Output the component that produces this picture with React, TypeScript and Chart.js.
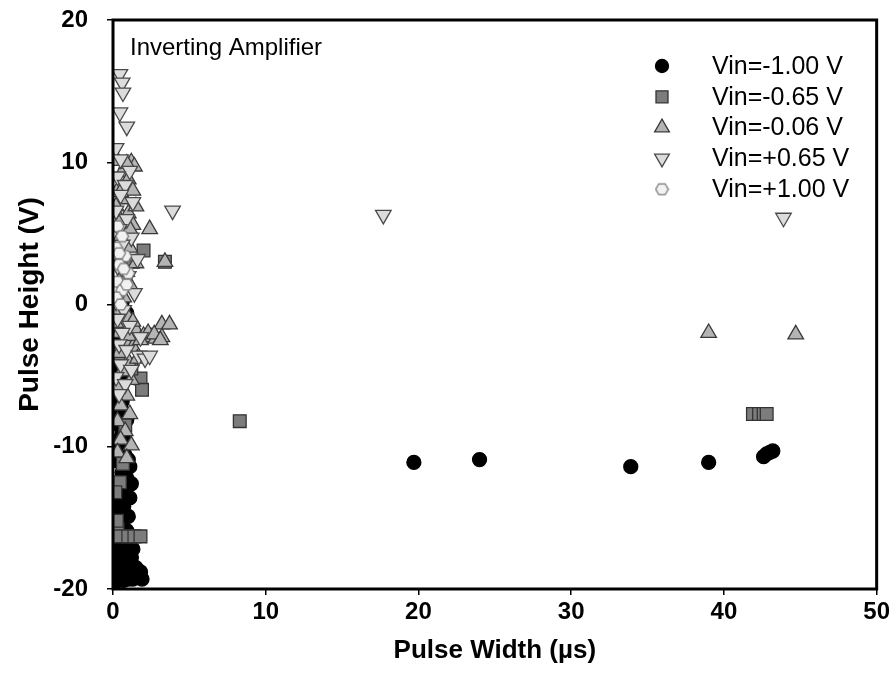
import React, { useEffect, useRef } from 'react';
import { Chart, registerables } from 'chart.js';

Chart.register(...registerables);

const seriesLabels = ['Vin=-1.00 V', 'Vin=-0.65 V', 'Vin=-0.06 V', 'Vin=+0.65 V', 'Vin=+1.00 V'];
const xTicks = [0, 10, 20, 30, 40, 50];
const yTicks = [-20, -10, 0, 10, 20];
const xTitle = 'Pulse Width (µs)';
const yTitle = 'Pulse Height (V)';
const noteText = 'Inverting Amplifier';

// Vin = -1.00 V (black circles)
const vinM100X = [0.1, 0.4, 0.7, 1.0, 1.3, 1.6, 1.9, 0.2, 0.6, 1.0, 1.4, 0.3, 0.7, 0.2, 0.5, 0.1, 0.3, 0.6, 0.2, 0.4, 0.1, 0.5, 0.8, 0.3, 0.9, 0.6, 1.1, 0.3, 0.8, 0.5, 0.2, 0.6, 0.3, 0.1, 0.5, 0.2, 0.4, 0.1, 0.3, 0.1, 0.3, 0.1, 0.2, 0.1, 0.6,
  1.2, 1.5, 1.8, 0.9, 1.2, 0.8, 0.9, 1.0, 0.7, 1.1, 1.2, 1.0, 0.7, 0.9, 0.6, 0.7, 0.5, 0.6, 0.5, 0.9, 1.6, 1.3,
  19.7, 24.0, 33.9, 39.0, 42.6, 42.8, 43.0, 43.2];
const vinM100Y = [-19.5, -19.4, -19.4, -19.3, -19.3, -19.2, -19.3, -18.9, -18.8, -18.7, -18.9, -18.2, -18.0, -17.4, -17.0, -16.6, -16.0, -15.5, -15.0, -14.4, -13.9, -13.6, -13.0, -12.6, -12.2, -11.8, -11.4, -11.0, -10.6, -10.1, -9.6, -9.0, -8.4, -7.8, -7.2, -6.5, -5.8, -5.0, -4.2, -3.4, -2.6, -1.8, -1.0, -0.3, 0.2,
  -18.4, -18.5, -18.8, -17.6, -17.8, -16.9, -15.9, -14.9, -14.2, -13.6, -12.6, -10.9, -9.4, -8.1, -6.8, -5.3, -3.9, -2.3, -1.3, -0.6, -19.0, -17.2,
  -11.1, -10.9, -11.4, -11.1, -10.7, -10.5, -10.4, -10.3];

// Vin = -0.65 V (gray squares)
const vinM065X = [0.65, 0.45, 0.15, 0.3, 0.25, 0.45, 1.0, 1.4, 1.8, 0.8, 1.8, 1.9, 1.2, 0.5, 2.0, 3.4, 1.3, 8.3, 41.9, 42.3, 42.6, 42.8];
const vinM065Y = [-11.2, -12.5, -13.2, -15.8, -15.2, -16.3, -16.3, -16.3, -16.3, -8.5, -5.2, -6.0, -4.5, -3.5, 3.8, 3.0, 3.0, -8.2, -7.7, -7.7, -7.7, -7.7];

// Vin = -0.06 V (light gray up triangles)
const vinM006X = [0.3, 1.2, 1.4, 0.6, 1.0, 0.4, 1.3, 0.7, 0.2, 1.0, 0.5, 1.3, 0.8, 2.4, 0.3, 1.1, 3.4, 0.6, 1.5, 0.9, 0.4, 1.2, 0.7, 0.3, 1.0, 0.5, 1.5, 2.0, 2.5, 3.2, 3.7, 2.8, 3.2, 0.8, 1.3, 0.4, 1.0, 1.6, 0.6, 1.2, 0.3, 0.9, 0.5, 1.1, 0.3, 0.8, 0.5, 1.2, 0.3, 0.9,
  0.4, 1.0, 1.8, 2.3, 2.7, 3.1, 0.2, 1.3, 0.9, 0.5, 1.5, 1.1,
  39.0, 44.7];
const vinM006Y = [10.1, 10.0, 9.7, 9.3, 8.8, 8.2, 8.0, 7.4, 6.9, 6.4, 5.9, 5.6, 5.0, 5.3, 4.4, 4.0, 3.0, 3.4, 2.9, 2.3, 1.6, 1.2, 0.5, -0.4, -0.9, -1.5, -1.8, -2.2, -2.3, -1.4, -1.4, -2.4, -2.3, -2.6, -3.0, -3.4, -4.0, -3.8, -4.7, -5.3, -5.8, -6.4, -7.1, -7.7, -8.2, -8.9, -9.5, -9.9, -10.4, -10.8,
  -2.0, -2.2, -2.5, -2.0, -2.1, -2.5, -1.3, -1.2, 9.9, 7.9, 6.9, 5.3,
  -2.0, -2.1];

// Vin = +0.65 V (lighter down triangles)
const vinP065X = [0.45, 0.6, 0.65, 0.45, 0.9, 0.2, 0.5, 1.1, 0.3, 0.8, 0.5, 1.3, 0.2, 0.9, 3.9, 0.4, 1.2, 0.6, 1.6, 0.3, 1.0, 0.5, 1.4, 0.2, 0.7, 0.3, 1.1, 0.6, 1.8, 0.4, 0.9, 1.7, 2.1, 2.4, 0.5, 1.2, 0.2, 0.8, 0.4, 17.7, 43.9];
const vinP065Y = [16.2, 15.6, 14.9, 13.5, 12.5, 11.0, 10.2, 9.4, 9.0, 8.4, 7.7, 7.2, 6.6, 6.0, 6.6, 5.3, 4.7, 4.2, 3.2, 2.7, 2.0, 1.4, 0.8, 0.2, -0.4, -1.0, -1.5, -2.0, -2.3, -2.8, -3.2, -3.6, -3.8, -3.6, -4.2, -4.6, -5.1, -5.6, -6.3, 6.3, 6.1];

// Vin = +1.00 V (white hexagons)
const vinP100X = [0.3, 0.6, 0.2, 0.8, 0.4, 1.0, 0.3, 0.6, 0.2, 0.5, 0.9, 0.4, 0.7];
const vinP100Y = [5.5, 4.8, 4.0, 3.4, 2.8, 2.2, 1.6, 1.0, 0.5, 0.0, 1.4, 3.6, 2.5];

const seriesX = [vinM100X, vinM065X, vinM006X, vinP065X, vinP100X];
const seriesY = [vinM100Y, vinM065Y, vinM006Y, vinP065Y, vinP100Y];

function makeHexagon(size: number, fill: string, stroke: string): HTMLCanvasElement {
  const c = document.createElement('canvas');
  c.width = size;
  c.height = size;
  const ctx = c.getContext('2d')!;
  const r = size / 2 - 1.2;
  const cx = size / 2;
  const cy = size / 2;
  ctx.beginPath();
  for (let i = 0; i < 6; i++) {
    const a = (Math.PI / 3) * i;
    const px = cx + r * Math.cos(a);
    const py = cy + r * Math.sin(a);
    if (i === 0) ctx.moveTo(px, py);
    else ctx.lineTo(px, py);
  }
  ctx.closePath();
  ctx.fillStyle = fill;
  ctx.fill();
  ctx.lineWidth = 1.3;
  ctx.strokeStyle = stroke;
  ctx.stroke();
  return c;
}

const styles = [
  { fill: '#000000', stroke: '#000000', shape: 'circle', r: 7, rot: 0 },
  { fill: '#7c7c7c', stroke: '#333333', shape: 'rect', r: 9, rot: 0 },
  { fill: '#b4b4b4', stroke: '#3a3a3a', shape: 'triangle', r: 9, rot: 0 },
  { fill: '#dcdcdc', stroke: '#4a4a4a', shape: 'triangle', r: 9, rot: 180 },
  { fill: '#f2f2f2', stroke: '#777777', shape: 'hex', r: 7, rot: 0 },
];

function drawMarker(ctx: CanvasRenderingContext2D, idx: number, x: number, y: number, hex: HTMLCanvasElement) {
  const s = styles[idx];
  ctx.save();
  ctx.fillStyle = s.fill;
  ctx.strokeStyle = s.stroke;
  ctx.lineWidth = 1.3;
  if (s.shape === 'circle') {
    ctx.beginPath();
    ctx.arc(x, y, 6.5, 0, Math.PI * 2);
    ctx.fill();
    ctx.stroke();
  } else if (s.shape === 'rect') {
    ctx.beginPath();
    ctx.rect(x - 6, y - 6, 12, 12);
    ctx.fill();
    ctx.stroke();
  } else if (s.shape === 'triangle') {
    const r = 8.5;
    const dir = s.rot === 180 ? -1 : 1;
    ctx.beginPath();
    ctx.moveTo(x, y - dir * r);
    ctx.lineTo(x + r * 0.866, y + dir * r * 0.5);
    ctx.lineTo(x - r * 0.866, y + dir * r * 0.5);
    ctx.closePath();
    ctx.fill();
    ctx.stroke();
  } else {
    ctx.drawImage(hex, x - hex.width / 2, y - hex.height / 2);
  }
  ctx.restore();
}

export default function App() {
  const ref = useRef<HTMLCanvasElement | null>(null);

  useEffect(() => {
    const canvas = ref.current;
    if (!canvas) return;
    const hex = makeHexagon(15, '#f2f2f2', '#777777');

    const datasets = seriesLabels.map((label, i) => {
      const s = styles[i];
      return {
        label,
        data: seriesX[i].map((x, k) => ({ x, y: seriesY[i][k] })),
        pointStyle: s.shape === 'hex' ? hex : s.shape,
        pointRadius: s.r,
        pointRotation: s.rot,
        pointBackgroundColor: s.fill,
        pointBorderColor: s.stroke,
        pointBorderWidth: 1.3,
        backgroundColor: s.fill,
        borderColor: s.stroke,
        showLine: false,
        order: 5 - i,
      };
    });

    const overlay = {
      id: 'overlay',
      afterDatasetsDraw(chart: any) {
        const { ctx, chartArea } = chart;
        ctx.save();
        ctx.lineWidth = 3;
        ctx.strokeStyle = '#000';
        ctx.strokeRect(chartArea.left, chartArea.top, chartArea.right - chartArea.left, chartArea.bottom - chartArea.top);
        // note text
        ctx.fillStyle = '#000';
        ctx.font = '24px "Liberation Sans", Arial, sans-serif';
        ctx.textBaseline = 'middle';
        ctx.textAlign = 'left';
        ctx.fillText(noteText, chartArea.left + 17, chartArea.top + 28);
        // legend
        const mx = chartArea.left + 549;
        const tx = chartArea.left + 599;
        const y0 = chartArea.top + 46;
        const dy = 30.8;
        ctx.font = '25px "Liberation Sans", Arial, sans-serif';
        seriesLabels.forEach((lab, i) => {
          const y = y0 + i * dy;
          drawMarker(ctx, i, mx, y, hex);
          ctx.fillStyle = '#000';
          ctx.fillText(lab, tx, y + 1);
        });
        ctx.restore();
      },
    };

    const tickFont = { family: '"Liberation Sans", Arial, sans-serif', size: 24, weight: 'bold' as const };
    const xTitleFont = { family: '"Liberation Sans", Arial, sans-serif', size: 26, weight: 'bold' as const };
    const yTitleFont = { family: '"Liberation Sans", Arial, sans-serif', size: 28, weight: 'bold' as const };

    const chart = new Chart(canvas, {
      type: 'scatter',
      data: { datasets: datasets as any },
      options: {
        animation: false,
        responsive: false,
        maintainAspectRatio: false,
        layout: { padding: { top: 20, right: 16, left: 0, bottom: 0 } },
        plugins: { legend: { display: false }, tooltip: { enabled: false } },
        scales: {
          x: {
            type: 'linear',
            min: 0,
            max: 50,
            afterFit: (scale: any) => { scale.height = 107; },
            afterBuildTicks: (scale: any) => { scale.ticks = xTicks.map((v) => ({ value: v })); },
            ticks: { color: '#000', font: tickFont, padding: 3, maxRotation: 0 },
            grid: { display: true, drawOnChartArea: false, drawTicks: true, tickLength: 6, color: '#000', lineWidth: 1.5 },
            border: { display: false },
            title: { display: true, text: xTitle, color: '#000', font: xTitleFont, padding: { top: 0, bottom: 30 } },
          },
          y: {
            type: 'linear',
            min: -20,
            max: 20,
            afterFit: (scale: any) => { scale.width = 113; scale.paddingTop = 0; scale.paddingBottom = 0; },
            afterBuildTicks: (scale: any) => { scale.ticks = yTicks.map((v) => ({ value: v })); },
            ticks: { color: '#000', font: tickFont, padding: 19 },
            grid: { display: true, drawOnChartArea: false, drawTicks: true, tickLength: 6, color: '#000', lineWidth: 1.5 },
            border: { display: false },
            title: { display: true, text: yTitle, color: '#000', font: yTitleFont, padding: { top: 13, bottom: 0 } },
          },
        },
      },
      plugins: [overlay],
    });

    return () => chart.destroy();
  }, []);

  return (
    <div style={{ position: 'absolute', left: 0, top: 0, width: 893, height: 696, background: '#fff' }}>
      <canvas ref={ref} width={893} height={696} style={{ width: 893, height: 696, display: 'block' }} />
    </div>
  );
}
